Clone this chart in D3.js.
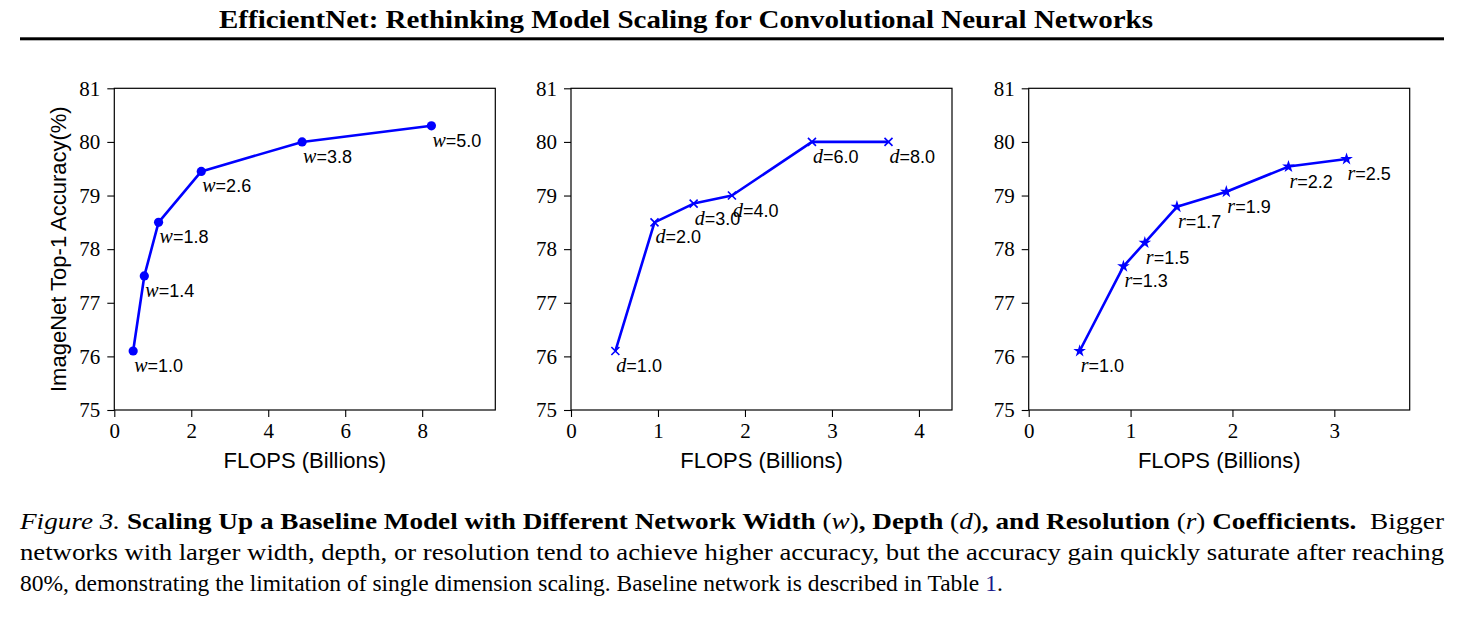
<!DOCTYPE html>
<html>
<head>
<meta charset="utf-8">
<script src="https://cdn.jsdelivr.net/npm/d3@7"></script>
<style>
  body { margin: 0; background: #fff; }
  svg { display: block; }
</style>
</head>
<body>
<div id="figure"></div>
<script>
// values
const widthFlops = [0.49, 0.78, 1.15, 2.26, 4.88, 8.24];
const widthAcc = [76.1, 77.5, 78.5, 79.45, 80.0, 80.3];
const widthCoef = ["1.0", "1.4", "1.8", "2.6", "3.8", "5.0"];

const depthFlops = [0.51, 0.96, 1.41, 1.85, 2.77, 3.65];
const depthAcc = [76.1, 78.5, 78.85, 79.0, 80.0, 80.0];
const depthCoef = ["1.0", "2.0", "3.0", "4.0", "6.0", "8.0"];

const resFlops = [0.5, 0.93, 1.14, 1.455, 1.94, 2.55, 3.12];
const resAcc = [76.1, 77.68, 78.12, 78.79, 79.07, 79.54, 79.68];
const resCoef = ["1.0", "1.3", "1.5", "1.7", "1.9", "2.2", "2.5"];

const accTicks = [75, 76, 77, 78, 79, 80, 81];
const widthTicks = [0, 2, 4, 6, 8];
const depthTicks = [0, 1, 2, 3, 4];
const resTicks = [0, 1, 2, 3];

const W = 1484, H = 619;
const serif = "'Liberation Serif', 'Times New Roman', serif";
const sans = "'Liberation Sans', Arial, sans-serif";
const blue = "#0000ff";

const svg = d3.select("#figure").append("svg")
  .attr("width", W)
  .attr("height", H);

// running header
svg.append("text")
  .attr("x", 219)
  .attr("y", 28)
  .attr("font-family", serif)
  .attr("font-weight", "bold")
  .attr("font-size", 25)
  .attr("textLength", 934)
  .attr("lengthAdjust", "spacingAndGlyphs")
  .text("EfficientNet: Rethinking Model Scaling for Convolutional Neural Networks");

svg.append("rect")
  .attr("x", 20)
  .attr("y", 37.3)
  .attr("width", 1424)
  .attr("height", 3)
  .attr("fill", "#000");

const panels = [
  { left: 114.3, xMax: 9.9, ticks: widthTicks, flops: widthFlops, acc: widthAcc, coef: widthCoef, v: "w", marker: "circle", ylabel: true },
  { left: 571, xMax: 4.38, ticks: depthTicks, flops: depthFlops, acc: depthAcc, coef: depthCoef, v: "d", marker: "x" },
  { left: 1028.7, xMax: 3.74, ticks: resTicks, flops: resFlops, acc: resAcc, coef: resCoef, v: "r", marker: "star" },
];

const plotW = 381, plotTop = 88.3, plotBottom = 410;

const y = d3.scaleLinear().domain([75, 81]).range([plotBottom, plotTop]);

panels.forEach((p) => {
  const x = d3.scaleLinear().domain([0, p.xMax]).range([p.left, p.left + plotW]);
  const g = svg.append("g");

  // ticks
  const xAxis = g.append("g")
    .attr("transform", `translate(0,${plotBottom})`)
    .call(d3.axisBottom(x).tickValues(p.ticks).tickFormat(d3.format("d")).tickSize(7).tickPadding(6));
  const yAxis = g.append("g")
    .attr("transform", `translate(${p.left},0)`)
    .call(d3.axisLeft(y).tickValues(accTicks).tickFormat(d3.format("d")).tickSize(7).tickPadding(7));

  [xAxis, yAxis].forEach((a) => {
    a.select(".domain").remove();
    a.selectAll(".tick line").attr("stroke", "#000").attr("stroke-width", 1.1);
    a.selectAll(".tick text")
      .attr("font-family", serif)
      .attr("font-size", 21)
      .attr("fill", "#000");
  });

  // frame
  g.append("rect")
    .attr("x", p.left)
    .attr("y", plotTop)
    .attr("width", plotW)
    .attr("height", plotBottom - plotTop)
    .attr("fill", "none")
    .attr("stroke", "#000")
    .attr("stroke-width", 1.2);

  const pts = p.flops.map((f, i) => ({ f, a: p.acc[i], c: p.coef[i] }));

  g.append("path")
    .datum(pts)
    .attr("fill", "none")
    .attr("stroke", blue)
    .attr("stroke-width", 2.6)
    .attr("stroke-linejoin", "round")
    .attr("d", d3.line().x((d) => x(d.f)).y((d) => y(d.a)));

  const marks = g.selectAll(".mark").data(pts).join("g")
    .attr("transform", (d) => `translate(${x(d.f)},${y(d.a)})`);

  if (p.marker === "circle") {
    marks.append("circle").attr("r", 4.6).attr("fill", blue);
  } else if (p.marker === "x") {
    marks.append("path")
      .attr("d", "M-4,-4L4,4M-4,4L4,-4")
      .attr("stroke", blue)
      .attr("stroke-width", 1.6);
  } else {
    marks.append("path")
      .attr("d", d3.symbol(d3.symbolStar, 50)())
      .attr("fill", blue);
  }

  // point labels
  const lab = g.selectAll(".lab").data(pts).join("text")
    .attr("x", (d) => x(d.f) + 1)
    .attr("y", (d) => y(d.a) + 21)
    .attr("font-family", sans)
    .attr("font-size", 18)
    .attr("fill", "#000");
  lab.append("tspan")
    .attr("font-family", serif)
    .attr("font-style", "italic")
    .attr("font-size", 20)
    .text(p.v);
  lab.append("tspan").text((d) => "=" + d.c);

  g.append("text")
    .attr("x", p.left + plotW / 2)
    .attr("y", 468)
    .attr("text-anchor", "middle")
    .attr("font-family", sans)
    .attr("font-size", 22)
    .text("FLOPS (Billions)");

  if (p.ylabel) {
    g.append("text")
      .attr("transform", `translate(66,${(plotTop + plotBottom) / 2}) rotate(-90)`)
      .attr("text-anchor", "middle")
      .attr("font-family", sans)
      .attr("font-size", 22)
      .text("ImageNet Top-1 Accuracy(%)");
  }
});

// caption
const cap = svg.append("g")
  .attr("font-family", serif)
  .attr("font-size", 24)
  .attr("fill", "#000");

const line1 = cap.append("text")
  .attr("x", 20).attr("y", 528.5)
  .attr("textLength", 1424)
  .attr("lengthAdjust", "spacingAndGlyphs");
const parts1 = [
  ["Figure 3.", "italic", "normal"],
  [" Scaling Up a Baseline Model with Different Network Width ", "normal", "bold"],
  ["(", "normal", "normal"], ["w", "italic", "normal"], [")", "normal", "normal"],
  [", Depth ", "normal", "bold"],
  ["(", "normal", "normal"], ["d", "italic", "normal"], [")", "normal", "normal"],
  [", and Resolution ", "normal", "bold"],
  ["(", "normal", "normal"], ["r", "italic", "normal"], [")", "normal", "normal"],
  [" Coefficients.", "normal", "bold"],
  ["\u00a0 Bigger", "normal", "normal"],
];
parts1.forEach(([t, st, wt]) => {
  line1.append("tspan").attr("font-style", st).attr("font-weight", wt).text(t);
});

cap.append("text")
  .attr("x", 20).attr("y", 560)
  .attr("textLength", 1424)
  .attr("lengthAdjust", "spacingAndGlyphs")
  .text("networks with larger width, depth, or resolution tend to achieve higher accuracy, but the accuracy gain quickly saturate after reaching");

const line3 = cap.append("text")
  .attr("x", 20).attr("y", 591)
  .attr("font-size", 23.5);
line3.append("tspan").text("80%, demonstrating the limitation of single dimension scaling. Baseline network is described in Table ");
line3.append("tspan").attr("fill", "#1a1a8c").text("1");
line3.append("tspan").text(".");
</script>
</body>
</html>
